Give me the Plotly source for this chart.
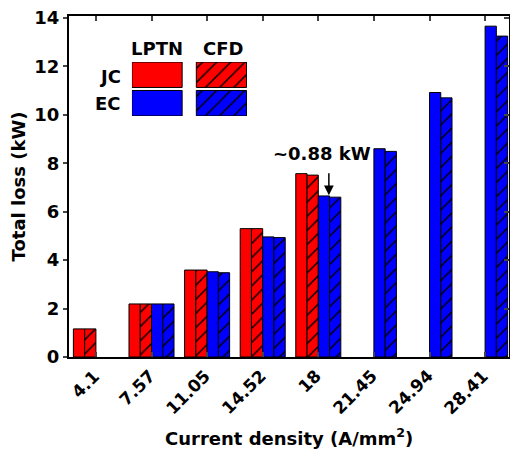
import plotly.graph_objects as go

categories = ["4.1", "7.57", "11.05", "14.52", "18", "21.45", "24.94", "28.41"]
jc_lptn = [1.16, 2.19, 3.59, 5.30, 7.57, None, None, None]
jc_cfd = [1.16, 2.19, 3.59, 5.30, 7.51, None, None, None]
ec_lptn = [None, 2.19, 3.52, 4.96, 6.65, 8.60, 10.92, 13.66]
ec_cfd = [None, 2.19, 3.48, 4.93, 6.60, 8.49, 10.70, 13.25]
y_ticks = [0, 2, 4, 6, 8, 10, 12, 14]

RED = "#ff0000"
BLUE = "#0000ff"
FONT = "DejaVu Sans"
xpos = list(range(len(categories)))

fig = go.Figure()


def pattern(shape, color):
    if not shape:
        return dict(shape="")
    return dict(shape=shape, fgcolor="black", bgcolor=color, fillmode="replace",
                fgopacity=1, size=10, solidity=0.15)


def bar(vals, color, hatch, name):
    fig.add_trace(go.Bar(x=xpos, y=vals, name=name, marker=dict(
        color=color, line=dict(color="black", width=1), pattern=pattern(hatch, color)),
        showlegend=False))


bar(jc_lptn, RED, "", "JC LPTN")
bar(jc_cfd, RED, "/", "JC CFD")
bar(ec_lptn, BLUE, "", "EC LPTN")
bar(ec_cfd, BLUE, "/", "EC CFD")

# dummy trace so the right-hand (inside) tick axis is drawn
fig.add_trace(go.Scatter(x=[None], y=[None], xaxis="x", yaxis="y2",
                         showlegend=False, hoverinfo="skip"))

# legend inset swatches (one bar per series, same style as the data bars)
leg_specs = [(RED, "", 0, 1.12), (RED, "/", 1, 1.12), (BLUE, "", 0, 0), (BLUE, "/", 1, 0)]
for color, hatch, col, base in leg_specs:
    fig.add_trace(go.Bar(
        x=[col], y=[1], base=[base], width=0.78, xaxis="x3", yaxis="y3",
        marker=dict(color=color, line=dict(color="black", width=1),
                    pattern=pattern(hatch, color)),
        showlegend=False, hoverinfo="skip"))

xr = [-0.484, 7.43]
yr = [0, 14.08]
tickfont = dict(family=FONT, size=18, color="black", weight="bold")
titlefont = dict(family=FONT, size=18, color="black", weight="bold")

fig.update_layout(
    width=510, height=452,
    margin=dict(l=69, r=1, t=16, b=95, autoexpand=False),
    plot_bgcolor="white", paper_bgcolor="white",
    barmode="overlay", bargap=0.19, bargroupgap=0,
    font=dict(family=FONT, size=18, color="black"),
    xaxis=dict(range=xr, tickmode="array", tickvals=xpos, ticktext=categories,
               showticklabels=False, ticks="inside", ticklen=5, tickwidth=1.5,
               mirror="ticks", showline=True, linecolor="black", linewidth=2,
               showgrid=False, zeroline=False),
    yaxis=dict(range=yr, tickvals=y_ticks, ticks="outside", ticklen=4, tickwidth=1.5,
               showline=True, linecolor="black", linewidth=2, showgrid=False,
               zeroline=False, tickfont=tickfont,
               title=dict(text="Total loss (kW)", standoff=4, font=titlefont)),
    yaxis2=dict(range=yr, overlaying="y", side="right", anchor="x", tickvals=y_ticks,
                ticks="inside", ticklen=5, tickwidth=1.5, showticklabels=False,
                showline=True, linecolor="black", linewidth=2, showgrid=False,
                zeroline=False),
    xaxis3=dict(domain=[0.143, 0.405], anchor="y3", range=[-0.39, 1.40], visible=False),
    yaxis3=dict(domain=[0.707, 0.865], anchor="x3", range=[0, 2.12], visible=False),
)

# main bars are grouped: give each series its own offset within the group
bw = 0.2025
for k, tr in enumerate(fig.data[:4]):
    tr.update(width=bw, offset=(k - 2) * bw)

# rotated category labels under the axis
for i, t in zip(xpos, categories):
    fig.add_annotation(text=t, x=i, y=-0.0176, xref="x", yref="paper", xshift=10,
                       xanchor="right", yanchor="top", textangle=-45, showarrow=False,
                       font=dict(family=FONT, size=17, color="black", weight="bold"))

# x-axis title
fig.add_annotation(text="Current density (A/mm<sup>2</sup>)", x=0.5, y=-0.2346,
                   xref="paper", yref="paper", xanchor="center", yanchor="middle",
                   showarrow=False, font=titlefont)

lab = dict(family=FONT, size=18, color="black", weight="bold")
for txt, x, y, xa in [("LPTN", 0.201, 0.906, "center"), ("CFD", 0.349, 0.906, "center"),
                      ("JC", 0.123, 0.822, "right"), ("EC", 0.123, 0.743, "right")]:
    fig.add_annotation(text=txt, x=x, y=y, xref="paper", yref="paper", showarrow=False,
                       xanchor=xa, yanchor="middle", font=lab)

fig.add_annotation(text="~0.88 kW", x=4.06, y=8.39, xref="x", yref="y",
                   showarrow=False, font=lab)
fig.add_annotation(text="", x=4.19, y=6.68, ax=4.19, ay=7.65, xref="x", yref="y",
                   axref="x", ayref="y", showarrow=True, arrowhead=2, arrowsize=1.3,
                   arrowwidth=1.5, arrowcolor="black")

fig.write_html("out.html", config={"displayModeBar": False},
               post_script="document.body.style.margin='0';")
